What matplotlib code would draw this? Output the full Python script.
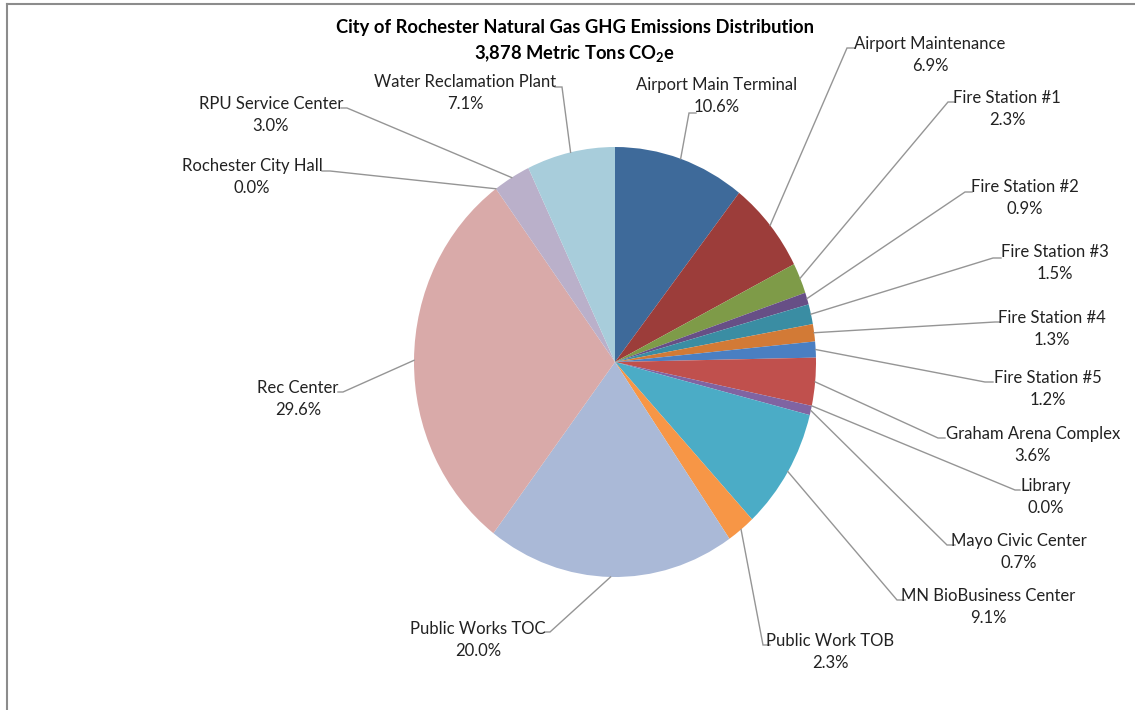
import matplotlib.pyplot as plt
from matplotlib.lines import Line2D
import numpy as np

plt.rcParams['font.family'] = ['Lato', 'DejaVu Sans']

# Datos
sites = ["Airport Main Terminal", "Airport Maintenance", "Fire Station #1",
         "Fire Station #2", "Fire Station #3", "Fire Station #4",
         "Fire Station #5", "Graham Arena Complex", "Library",
         "Mayo Civic Center", "MN BioBusiness Center", "Public Work TOB",
         "Public Works TOC", "Rec Center", "Rochester City Hall",
         "RPU Service Center", "Water Reclamation Plant"]
shares = [10.6, 6.9, 2.3, 0.9, 1.5, 1.3, 1.2, 3.6, 0.0, 0.7, 9.1, 2.3,
          20.0, 29.6, 0.0, 3.0, 7.1]
colors = ["#3E6A9A", "#9C3D3A", "#7E9B48", "#674F86", "#3A8DA3", "#D27A36",
          "#4A7FC2", "#C0504D", "#9BBB59", "#8064A2", "#4BACC6", "#F79646",
          "#AAB9D7", "#D9AAA9", "#C5D6A8", "#BAB0CA", "#A8CDDB"]

# posiciones de etiquetas (pixeles) y codos de las lineas guia
label_xy = [(717, 96), (930, 55), (1007, 109), (1025, 198), (1055, 263),
            (1052, 329), (1048, 389), (1033, 445), (1046, 497), (1019, 552),
            (988, 607), (830, 652), (478, 640), (298, 399), (252, 177),
            (271, 115), (465, 93)]
elbow_xy = [(689, 113), (847, 48), (948, 102), (965, 192), (993, 258),
            (995, 322), (985, 382), (938, 438), (1015, 490), (947, 545),
            (897, 600), (763, 645), (550, 632), (343, 392), (330, 171),
            (347, 108), (562, 87)]
end_dx = [7, 8, 7, 7, 8, 5, 8, 7, 5, 8, 8, 7, -5, -5, -8, -6, -7]

W, H = 1135, 710
CX, CY, RX, RY = 615, 362, 201, 215


def px2d(px, py):
    return (px - CX) / RX, (CY - py) / RY


fig = plt.figure(figsize=(W / 100, H / 100), dpi=100)
ax = fig.add_axes([0, 0, 1, 1])

wedges, _ = ax.pie(shares, colors=colors, startangle=90, counterclock=False,
                   radius=1, wedgeprops=dict(linewidth=0))
ax.set_aspect('auto')
ax.set_xlim(-CX / RX, (W - CX) / RX)
ax.set_ylim((CY - H) / RY, CY / RY)
ax.axis('off')

for w, name, val, (lx, ly), (ex, ey), dx in zip(wedges, sites, shares,
                                                 label_xy, elbow_xy, end_dx):
    ang = np.deg2rad((w.theta1 + w.theta2) / 2)
    x0, y0 = np.cos(ang), np.sin(ang)
    x1, y1 = px2d(ex, ey)
    x2, y2 = px2d(ex + dx, ey)
    ax.plot([x0, x1, x2], [y0, y1, y2], color="#959595", lw=1.0,
            solid_joinstyle='miter')
    tx, ty = px2d(lx, ly)
    ax.text(tx, ty, f"{name}\n{val:.1f}%", ha='center', va='center',
            multialignment='center', fontsize=12, linespacing=1.45,
            color="#222222")

fig.text(575 / W, 1 - 28 / H,
         "City of Rochester Natural Gas GHG Emissions Distribution",
         ha='center', va='center', fontsize=13.2, fontweight='bold')
fig.text(575 / W, 1 - 54 / H,
         r"3,878 Metric Tons CO$_\mathregular{2}$e",
         ha='center', va='center', fontsize=13.2, fontweight='bold')

# borde del grafico
fig.add_artist(Line2D([7 / W, 1], [1 - 4 / H, 1 - 4 / H], color="#8C8C8C",
                      lw=1.5))
fig.add_artist(Line2D([7 / W, 7 / W], [0, 1 - 4 / H], color="#8C8C8C",
                      lw=1.5))

fig.savefig("out.png", dpi=100)
